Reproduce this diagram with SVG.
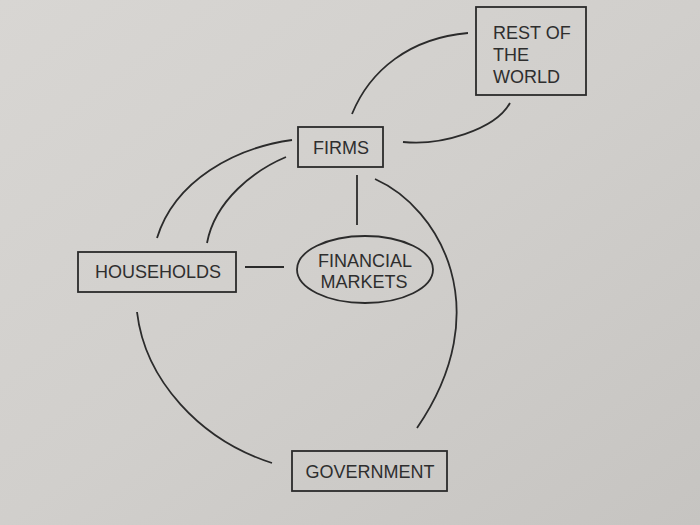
<svg xmlns="http://www.w3.org/2000/svg" width="700" height="525" viewBox="0 0 700 525">
  <defs>
    <linearGradient id="bg" x1="0" y1="0" x2="1" y2="1">
      <stop offset="0" stop-color="#d8d6d3"/>
      <stop offset="0.5" stop-color="#d1cfcc"/>
      <stop offset="1" stop-color="#c6c4c1"/>
    </linearGradient>
    <style>
      .box { fill: none; stroke: #2b2b2b; stroke-width: 1.8; }
      .lbl { font-family: "Liberation Sans", Arial, sans-serif; font-size: 18px; fill: #2e2e2e; }
      .mid { text-anchor: middle; }
      .conn path, .conn line { fill: none; stroke: #2b2b2b; stroke-width: 1.8; }
    </style>
  </defs>
  <rect x="0" y="0" width="700" height="525" fill="url(#bg)"/>

  <g id="connectors" class="conn">
    <path d="M352,114 C370,70 410,38 468,33"/>
    <path d="M403,142 C440,146 495,130 510,103"/>
    <path d="M292,140 C235,148 175,180 157,238"/>
    <path d="M286,157 C255,170 215,200 207,243"/>
    <line x1="357" y1="175" x2="357" y2="225"/>
    <line x1="245" y1="267" x2="284" y2="267"/>
    <path d="M375,179 C440,208 498,310 417,428"/>
    <path d="M137,312 C145,380 200,440 272,463"/>
  </g>

  <g id="rest-of-world">
    <rect class="box" x="476" y="7" width="110" height="88"/>
    <text class="lbl" x="493" y="39">REST OF</text>
    <text class="lbl" x="493" y="61">THE</text>
    <text class="lbl" x="493" y="83">WORLD</text>
  </g>

  <g id="firms">
    <rect class="box" x="298" y="127" width="85" height="40"/>
    <text class="lbl mid" x="341" y="154">FIRMS</text>
  </g>

  <g id="households">
    <rect class="box" x="78" y="252" width="158" height="40"/>
    <text class="lbl mid" x="158" y="278">HOUSEHOLDS</text>
  </g>

  <g id="financial-markets">
    <ellipse class="box" cx="365" cy="269.5" rx="68" ry="33.5"/>
    <text class="lbl mid" x="365" y="267">FINANCIAL</text>
    <text class="lbl mid" x="364" y="288">MARKETS</text>
  </g>

  <g id="government">
    <rect class="box" x="292" y="451" width="155" height="40"/>
    <text class="lbl mid" x="370" y="478">GOVERNMENT</text>
  </g>
</svg>
